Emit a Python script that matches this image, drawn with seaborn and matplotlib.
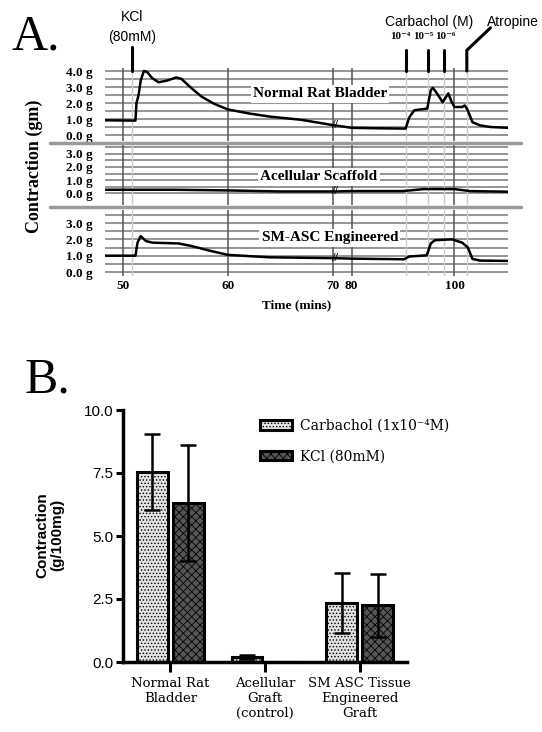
import numpy as np
import pandas as pd
import seaborn as sns
import matplotlib.pyplot as plt
from matplotlib.lines import Line2D

W, H = 542, 732

# ---------------- panel A : force traces (time in min, force in g) ----------------
normal_t = [48.3, 51.2, 51.3, 51.5, 51.7, 52.0, 52.3, 52.8, 53.4, 54.2, 55.1, 55.6, 56.5,
            57.5, 58.7, 60.0, 62.0, 64.0, 67.0, 70.0, 80.0, 85.0, 90.5, 91.2, 92.2, 94.7,
            95.4, 95.8, 96.6, 97.7, 98.8, 99.4, 100.0, 101.5, 102.0, 102.5, 103.5, 105.0,
            107.0, 110.4]
normal_g = [0.92, 0.9, 2.0, 2.5, 3.4, 4.0, 3.95, 3.55, 3.3, 3.4, 3.6, 3.5, 2.95,
            2.4, 1.95, 1.6, 1.35, 1.15, 0.95, 0.62, 0.45, 0.42, 0.4, 1.1, 1.55, 1.65,
            2.8, 2.95, 2.6, 2.05, 2.6, 2.1, 1.75, 1.75, 1.85, 1.6, 0.8, 0.6,
            0.5, 0.45]

acell_t = [48.3, 55.0, 60.0, 65.0, 70.0, 80.0, 90.0, 94.0, 100.0, 103.0, 110.4]
acell_g = [0.25, 0.25, 0.2, 0.12, 0.12, 0.15, 0.15, 0.3, 0.3, 0.15, 0.1]

smasc_t = [48.3, 51.2, 51.4, 51.7, 52.2, 52.8, 55.3, 56.5, 58.0, 60.0, 64.0, 70.0, 80.0,
           90.2, 91.2, 94.6, 95.4, 96.2, 99.5, 101.5, 102.6, 103.5, 105.0, 110.4]
smasc_g = [1.0, 1.0, 1.8, 2.2, 1.9, 1.8, 1.75, 1.6, 1.35, 1.05, 0.9, 0.85, 0.82,
           0.78, 0.95, 1.02, 1.75, 1.95, 2.0, 1.8, 1.5, 0.8, 0.7, 0.68]

panel_names = ['Normal Rat Bladder', 'Acellular Scaffold', 'SM-ASC Engineered']
panel_gmax = [4, 3, 3]
time_ticks = [50, 60, 70, 80, 100]
kcl_time = 50.9
carbachol_times = [90.5, 94.8, 97.9]
carbachol_labels = ['10⁻⁴', '10⁻⁵', '10⁻⁶']
atropine_time = 102.4

# ---------------- panel B : contraction summary ----------------
groups = ['Normal Rat\nBladder', 'Acellular\nGraft\n(control)', 'SM ASC Tissue\nEngineered\nGraft']
treatments = ['Carbachol (1x10⁻⁴M)', 'KCl (80mM)']
carbachol_mean = [7.55, 0.2, 2.35]
carbachol_sd = [1.5, 0.08, 1.2]
kcl_mean = [6.3, 0.0, 2.25]
kcl_sd = [2.3, 0.0, 1.25]

sns.set_style('white')
plt.rcParams['font.family'] = ['Liberation Serif', 'DejaVu Serif']
plt.rcParams['hatch.linewidth'] = 0.6
for k in ('text.color', 'axes.labelcolor', 'xtick.color', 'ytick.color'):
    plt.rcParams[k] = 'black'

fig = plt.figure(figsize=(W / 100, H / 100), dpi=100)


def px_axes(l, t, r, b):
    return fig.add_axes([l / W, 1 - b / H, (r - l) / W, (b - t) / H])


def tpos(t):
    # broken time axis: 70 -> 80 squeezed, after 80 compressed scale
    t = np.asarray(t, float)
    return np.where(t <= 70, t, np.where(t >= 80, 71.8 + (t - 80) * 0.49, 70 + (t - 70) * 0.18))


ax1 = px_axes(105, 68, 508, 141)
ax2 = px_axes(105, 145, 508, 205)
ax3 = px_axes(105, 210, 508, 276)
axes_a = [ax1, ax2, ax3]
ylims = [(-0.375, 4.19), (-0.92, 3.69), (-0.245, 3.8)]
traces = [(normal_t, normal_g), (acell_t, acell_g), (smasc_t, smasc_g)]
name_pos = [(0.533, 0.644), (0.531, 0.467), (0.558, 0.576)]
markers = [kcl_time] + carbachol_times + [atropine_time]

for ax, (tt, gg), lim, gmax, name, npos in zip(axes_a, traces, ylims, panel_gmax, panel_names, name_pos):
    ax.set_xlim(48.3, 86.7)
    ax.set_ylim(*lim)
    for g in np.arange(0, lim[1] - 0.15, 0.5):
        ax.axhline(g, color='#8c8c8c', lw=1.3, zorder=0)
    for t in time_ticks:
        ax.axvline(tpos(t), color='#555555', lw=1.1, zorder=1)
    for t in markers:
        ax.axvline(tpos(t), color='#cccccc', lw=1.0, zorder=1)
    df = pd.DataFrame({'pos': tpos(tt), 'g': gg})
    sns.lineplot(data=df, x='pos', y='g', ax=ax, color='black', lw=1.8,
                 sort=False, estimator=None, zorder=3)
    ax.text(tpos(71), np.interp(70, tt, gg), '//', ha='center', va='center',
            fontsize=9, fontweight='bold', zorder=4)
    ax.text(npos[0], npos[1], name, transform=ax.transAxes, ha='center', va='center',
            fontsize=11, fontweight='bold', zorder=5,
            bbox=dict(facecolor='white', edgecolor='none', pad=1.5))
    ax.set_yticks(range(gmax + 1))
    ax.set_yticklabels([f'{v:.1f} g' for v in range(gmax + 1)], fontsize=9.5, fontweight='bold')
    ax.tick_params(length=0, pad=9)
    ax.set_xlabel('')
    ax.set_ylabel('')
    for s in ax.spines.values():
        s.set_visible(False)
    ax.set_xticks([])

ax3.set_xticks(tpos(time_ticks))
ax3.set_xticklabels([str(t) for t in time_ticks], fontsize=9.5, fontweight='bold')
ax3.tick_params(axis='x', length=0, pad=3)

# stimulus markers above the top trace
sans_n = ['Liberation Sans Narrow', 'Liberation Sans', 'DejaVu Sans']
ax1.plot([tpos(kcl_time)] * 2, [4.0, 5.5], color='black', lw=2.2, clip_on=False)
ax1.text(tpos(kcl_time), 7.4, 'KCl', ha='center', va='center', fontsize=10, family=sans_n)
ax1.text(tpos(kcl_time), 6.1, '(80mM)', ha='center', va='center', fontsize=10, family=sans_n)
for t in carbachol_times:
    ax1.plot([tpos(t)] * 2, [4.0, 5.3], color='black', lw=2.2, clip_on=False)
# exponent labels spread evenly over the marker group
lab_x = np.linspace(tpos(carbachol_times[0]) - 0.47, tpos(carbachol_times[-1]) + 0.19, 3)
for x, lab in zip(lab_x, carbachol_labels):
    ax1.text(x, 6.15, lab, ha='center', va='center', fontsize=8, fontweight='bold')
ax1.text(tpos(95.0), 7.06, 'Carbachol (M)', ha='center', va='center', fontsize=10, family=sans_n)
ax1.plot([tpos(atropine_time)] * 2 + [tpos(107.0)], [4.0, 5.3, 6.7], color='black', lw=2.2,
         clip_on=False)
ax1.text(tpos(111.3), 7.06, 'Atropine', ha='center', va='center', fontsize=10, family=sans_n)

for y in (143, 207):
    fig.add_artist(Line2D([50 / W, 521 / W], [1 - y / H] * 2, color='#9a9a9a', lw=2.5))

fig.text(34 / W, 1 - 166 / H, 'Contraction (gm)', rotation=90, ha='center', va='center',
         fontsize=13, fontweight='bold')
fig.text(297 / W, 1 - 305 / H, 'Time (mins)', ha='center', va='center',
         fontsize=9.5, fontweight='bold')
fig.text(12 / W, 1 - 50 / H, 'A.', fontsize=36, va='baseline')
fig.text(25 / W, 1 - 392 / H, 'B.', fontsize=36, va='baseline')

# ---------------- panel B ----------------
ax4 = px_axes(123, 410, 407, 662)
dfb = pd.DataFrame({
    'group': groups * 2,
    'treatment': [treatments[0]] * 3 + [treatments[1]] * 3,
    'value': carbachol_mean + kcl_mean,
})
sns.barplot(data=dfb, x='group', y='value', hue='treatment', hue_order=treatments,
            palette=['#e2e2e2', '#555555'], width=0.76, gap=0.14, errorbar=None,
            edgecolor='black', linewidth=2.2, ax=ax4, legend=False)
for cont, hatch, means, sds in zip(ax4.containers, ['.....', 'xxxx'],
                                   [carbachol_mean, kcl_mean], [carbachol_sd, kcl_sd]):
    for bar in cont:
        bar.set_hatch(hatch)
    xs = [b.get_x() + b.get_width() / 2 for b in cont]
    ax4.errorbar(xs, means, yerr=sds, fmt='none', ecolor='black', elinewidth=1.8,
                 capsize=5.5, capthick=1.8, zorder=5)
ax4.legend(handles=list(ax4.containers), labels=treatments, loc='upper left',
           bbox_to_anchor=(0.482, 0.965), frameon=False, borderaxespad=0, borderpad=0,
           handlelength=2.3, handleheight=0.7, labelspacing=1.2, handletextpad=0.6,
           prop={'family': 'DejaVu Serif', 'size': 10})
ax4.set_ylim(0, 10)
ax4.set_xlim(-0.5, 2.5)
ax4.set_yticks([0, 2.5, 5, 7.5, 10])
ax4.set_yticklabels(['0.0', '2.5', '5.0', '7.5', '10.0'], family=['Liberation Sans', 'DejaVu Sans'],
                    fontsize=11)
ax4.set_xticks(range(3))
ax4.set_xticklabels(groups, family='DejaVu Serif', fontsize=9.5)
ax4.tick_params(axis='y', direction='out', length=5, width=2.2, pad=2, left=True)
ax4.tick_params(axis='x', direction='out', length=7, width=2.2, pad=4, bottom=True)
for s in ('top', 'right'):
    ax4.spines[s].set_visible(False)
for s in ('left', 'bottom'):
    ax4.spines[s].set_linewidth(2.5)
    ax4.spines[s].set_color('black')
ax4.set_xlabel('')
ax4.set_ylabel('')
fig.text(50 / W, 1 - 535 / H, 'Contraction\n(g/100mg)', rotation=90, ha='center', va='center',
         fontsize=11, fontweight='bold', family=['Liberation Sans', 'DejaVu Sans'],
         linespacing=1.1)

fig.savefig('out.png', dpi=100)
